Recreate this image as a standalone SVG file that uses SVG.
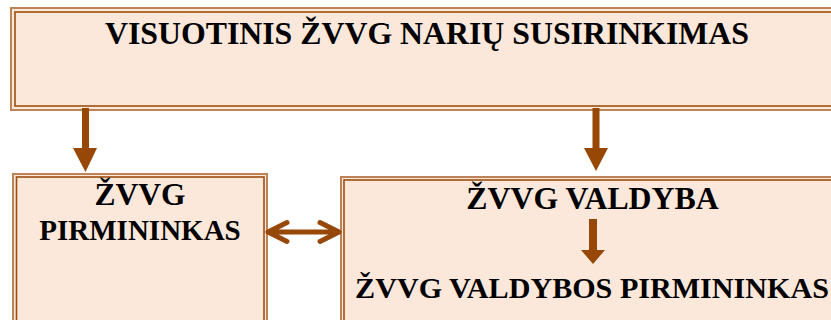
<svg xmlns="http://www.w3.org/2000/svg" width="831" height="320" viewBox="0 0 831 320">
<style>
.box{fill:#FCE8DA}
.outer{fill:none;stroke:#BD8356;stroke-width:2}
.inner{fill:none;stroke:#9C4E10;stroke-width:1.6}
.t{font-family:"Liberation Serif","Times New Roman",serif;font-weight:bold;fill:#000;text-anchor:middle}
.shaft{fill:#974706}
.dbl{fill:none;stroke:#974706;stroke-width:5;stroke-linecap:round;stroke-linejoin:round}
</style>
<rect width="831" height="320" fill="#fff"/>
<g id="node-assembly">
<rect class="box" x="10" y="7" width="840" height="103"/>
<rect class="outer" x="11" y="8" width="840" height="102"/>
<rect class="inner" x="15" y="12" width="830" height="94"/>
<text class="t" x="427" y="44" font-size="31.8">VISUOTINIS ŽVVG NARIŲ SUSIRINKIMAS</text>
</g>
<g id="node-chairman">
<rect class="box" x="12" y="173" width="256" height="160"/>
<rect class="outer" x="13" y="174" width="254" height="160"/>
<rect class="inner" x="16.5" y="177" width="247.5" height="160"/>
<text class="t" x="140" y="205" font-size="31.5">ŽVVG</text>
<text class="t" x="140" y="240" font-size="29">PIRMININKAS</text>
</g>
<g id="node-board">
<rect class="box" x="340" y="176" width="520" height="160"/>
<rect class="outer" x="341" y="177" width="520" height="160"/>
<rect class="inner" x="344" y="180" width="520" height="160"/>
<text class="t" x="592.5" y="209" font-size="31.8">ŽVVG VALDYBA</text>
<text class="t" x="592" y="298" font-size="30.1">ŽVVG VALDYBOS PIRMININKAS</text>
</g>
<g id="connectors">
<path class="shaft" d="M82 108H89V148H97L85.5 172L73 148H82Z"/>
<path class="shaft" d="M592.5 108H599.5V148H608L596 171L584 148H592.5Z"/>
<path class="shaft" d="M589 219H597V250H605L593 264L581 250H589Z"/>
<path class="dbl" d="M268 232H339M287 222.5L268 232L287 241.5M320 222.5L339 232L320 241.5"/>
</g>
</svg>
